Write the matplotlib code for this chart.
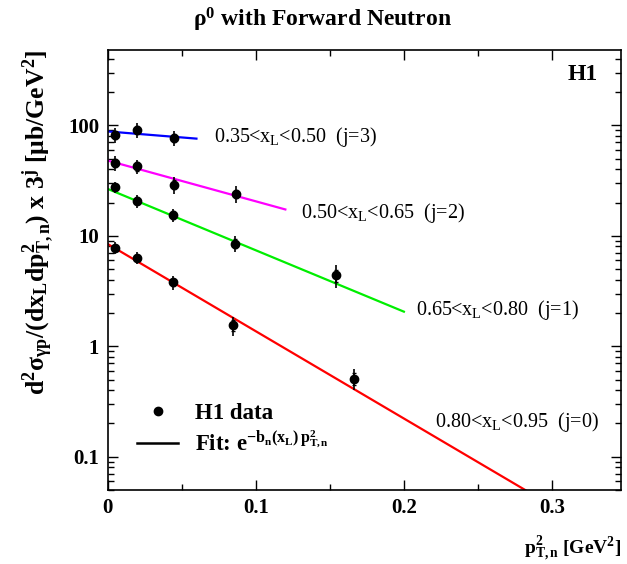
import numpy as np
import matplotlib
matplotlib.use("Agg")
import matplotlib.pyplot as plt
from matplotlib.lines import Line2D

plt.rcParams['font.family'] = ['Liberation Serif', 'DejaVu Serif']
plt.rcParams['mathtext.fontset'] = 'custom'
plt.rcParams['mathtext.rm'] = 'Liberation Serif'
plt.rcParams['mathtext.it'] = 'Liberation Serif:italic'
plt.rcParams['mathtext.bf'] = 'Liberation Serif:bold'

# ---- data ----
labels = ["0.35<x$_{\\mathrm{L}}$<0.50  (j=3)",
          "0.50<x$_{\\mathrm{L}}$<0.65  (j=2)",
          "0.65<x$_{\\mathrm{L}}$<0.80  (j=1)",
          "0.80<x$_{\\mathrm{L}}$<0.95  (j=0)"]
colors = ["#0000ff", "#ff00ff", "#00ee00", "#ff0000"]

x_j3 = [0.005, 0.020, 0.045]
y_j3 = [82.0, 91.0, 77.0]
e_j3 = [13.0, 14.0, 12.0]

x_j2 = [0.005, 0.020, 0.045, 0.087]
y_j2 = [45.5, 42.5, 29.0, 24.0]
e_j2 = [7.0, 6.5, 5.0, 4.0]

x_j1 = [0.005, 0.020, 0.044, 0.086, 0.154]
y_j1 = [27.5, 20.8, 15.4, 8.5, 4.4]
e_j1 = [3.0, 2.8, 2.2, 1.4, 1.0]

x_j0 = [0.005, 0.020, 0.044, 0.085, 0.166]
y_j0 = [7.8, 6.3, 3.8, 1.55, 0.51]
e_j0 = [0.9, 0.8, 0.55, 0.30, 0.11]

# fit parameters: amplitude at p_T^2=0, slope b_n, end of drawn range
fit_A = [88.0, 48.0, 26.6, 8.45]
fit_b = [2.5, 8.5, 12.8, 18.2]
fit_xend = [0.06, 0.12, 0.20, 0.30]

xs = [x_j3, x_j2, x_j1, x_j0]
ys = [y_j3, y_j2, y_j1, y_j0]
es = [e_j3, e_j2, e_j1, e_j0]

x_ticks = [0, 0.1, 0.2, 0.3]
x_ticklabels = ["0", "0.1", "0.2", "0.3"]
y_ticks = [0.1, 1, 10, 100]
y_ticklabels = ["0.1", "1", "10", "100"]

# ---- figure ----
fig = plt.figure(figsize=(6.27, 5.64), dpi=100)
ax = fig.add_axes([0.1715, 0.1312, 0.8189, 0.7801])
ax.set_yscale('log')
ax.set_xlim(0, 0.3465)
ax.set_ylim(0.05, 480)

for A, b, xe, c in zip(fit_A, fit_b, fit_xend, colors):
    xl = np.array([0.0, xe])
    ax.plot(xl, A * np.exp(-b * xl), color=c, lw=1.6, zorder=2)

for x, y, e in zip(xs, ys, es):
    ax.errorbar(x, y, yerr=e, fmt='o', color='black', ms=6,
                elinewidth=1.2, capsize=0, zorder=3)
    ax.errorbar(x, y, yerr=np.array(e) * 0.55, fmt='none', ecolor='black',
                elinewidth=1.2, capsize=1.5, capthick=1.0, zorder=3)

ax.set_xticks(x_ticks)
ax.set_xticklabels(x_ticklabels, fontweight='bold', fontsize=15)
ax.set_xticks(np.arange(0.05, 0.35, 0.1), minor=True)
ax.set_yticks(y_ticks)
ax.set_yticklabels(y_ticklabels, fontweight='bold', fontsize=15)
ax.tick_params(which='both', direction='in', top=True, right=True, width=1.0)
ax.tick_params(which='major', length=7, pad=6)
ax.tick_params(which='minor', length=4)
ax.tick_params(axis='y', which='minor', labelleft=False)
for s in ax.spines.values():
    s.set_linewidth(1.2)

# range labels
text_pos = [(0.072, 78), (0.1305, 16.0), (0.208, 2.13), (0.221, 0.205)]
for (tx, ty), lab in zip(text_pos, labels):
    ax.text(tx, ty, lab, fontsize=14.5, va='center', ha='left')

ax.text(0.955, 0.945, "H1", transform=ax.transAxes, fontsize=17,
        fontweight='bold', ha='right', va='center')

# legend
leg_handles = [Line2D([], [], marker='o', color='black', ls='none', ms=6),
               Line2D([], [], color='black', lw=1.8)]
leg_labels = ["H1 data",
              "Fit: e$^{\\mathbf{-b_n(x_L)\\,p^2_{T,n}}}$"]
ax.legend(leg_handles, leg_labels, loc='lower left',
          bbox_to_anchor=(0.017, 0.03), frameon=False,
          prop={'weight': 'bold', 'size': 16.5}, handlelength=1.8,
          labelspacing=0.35, handletextpad=0.75)

fig.text(0.515, 0.965, "ρ$^{\\mathbf{0}}$ with Forward Neutron", ha='center',
         va='center', fontsize=17, fontweight='bold')

ax.set_ylabel("d$^{\\mathbf{2}}$σ$_{\\mathbf{γp}}$/(dx$_{\\mathbf{L}}$dp$^{\\mathbf{2}}_{\\mathbf{T,n}}$) x 3$^{\\mathbf{j}}$ [μb/GeV$^{\\mathbf{2}}$]",
              fontsize=18.5, fontweight='bold', labelpad=9, loc='top')
ax.set_xlabel("p$^{\\mathbf{2}}_{\\mathbf{T,n}}$ [GeV$^{\\mathbf{2}}$]",
              fontsize=14, fontweight='bold', loc='right', labelpad=12)

fig.savefig("out.png", dpi=100)
